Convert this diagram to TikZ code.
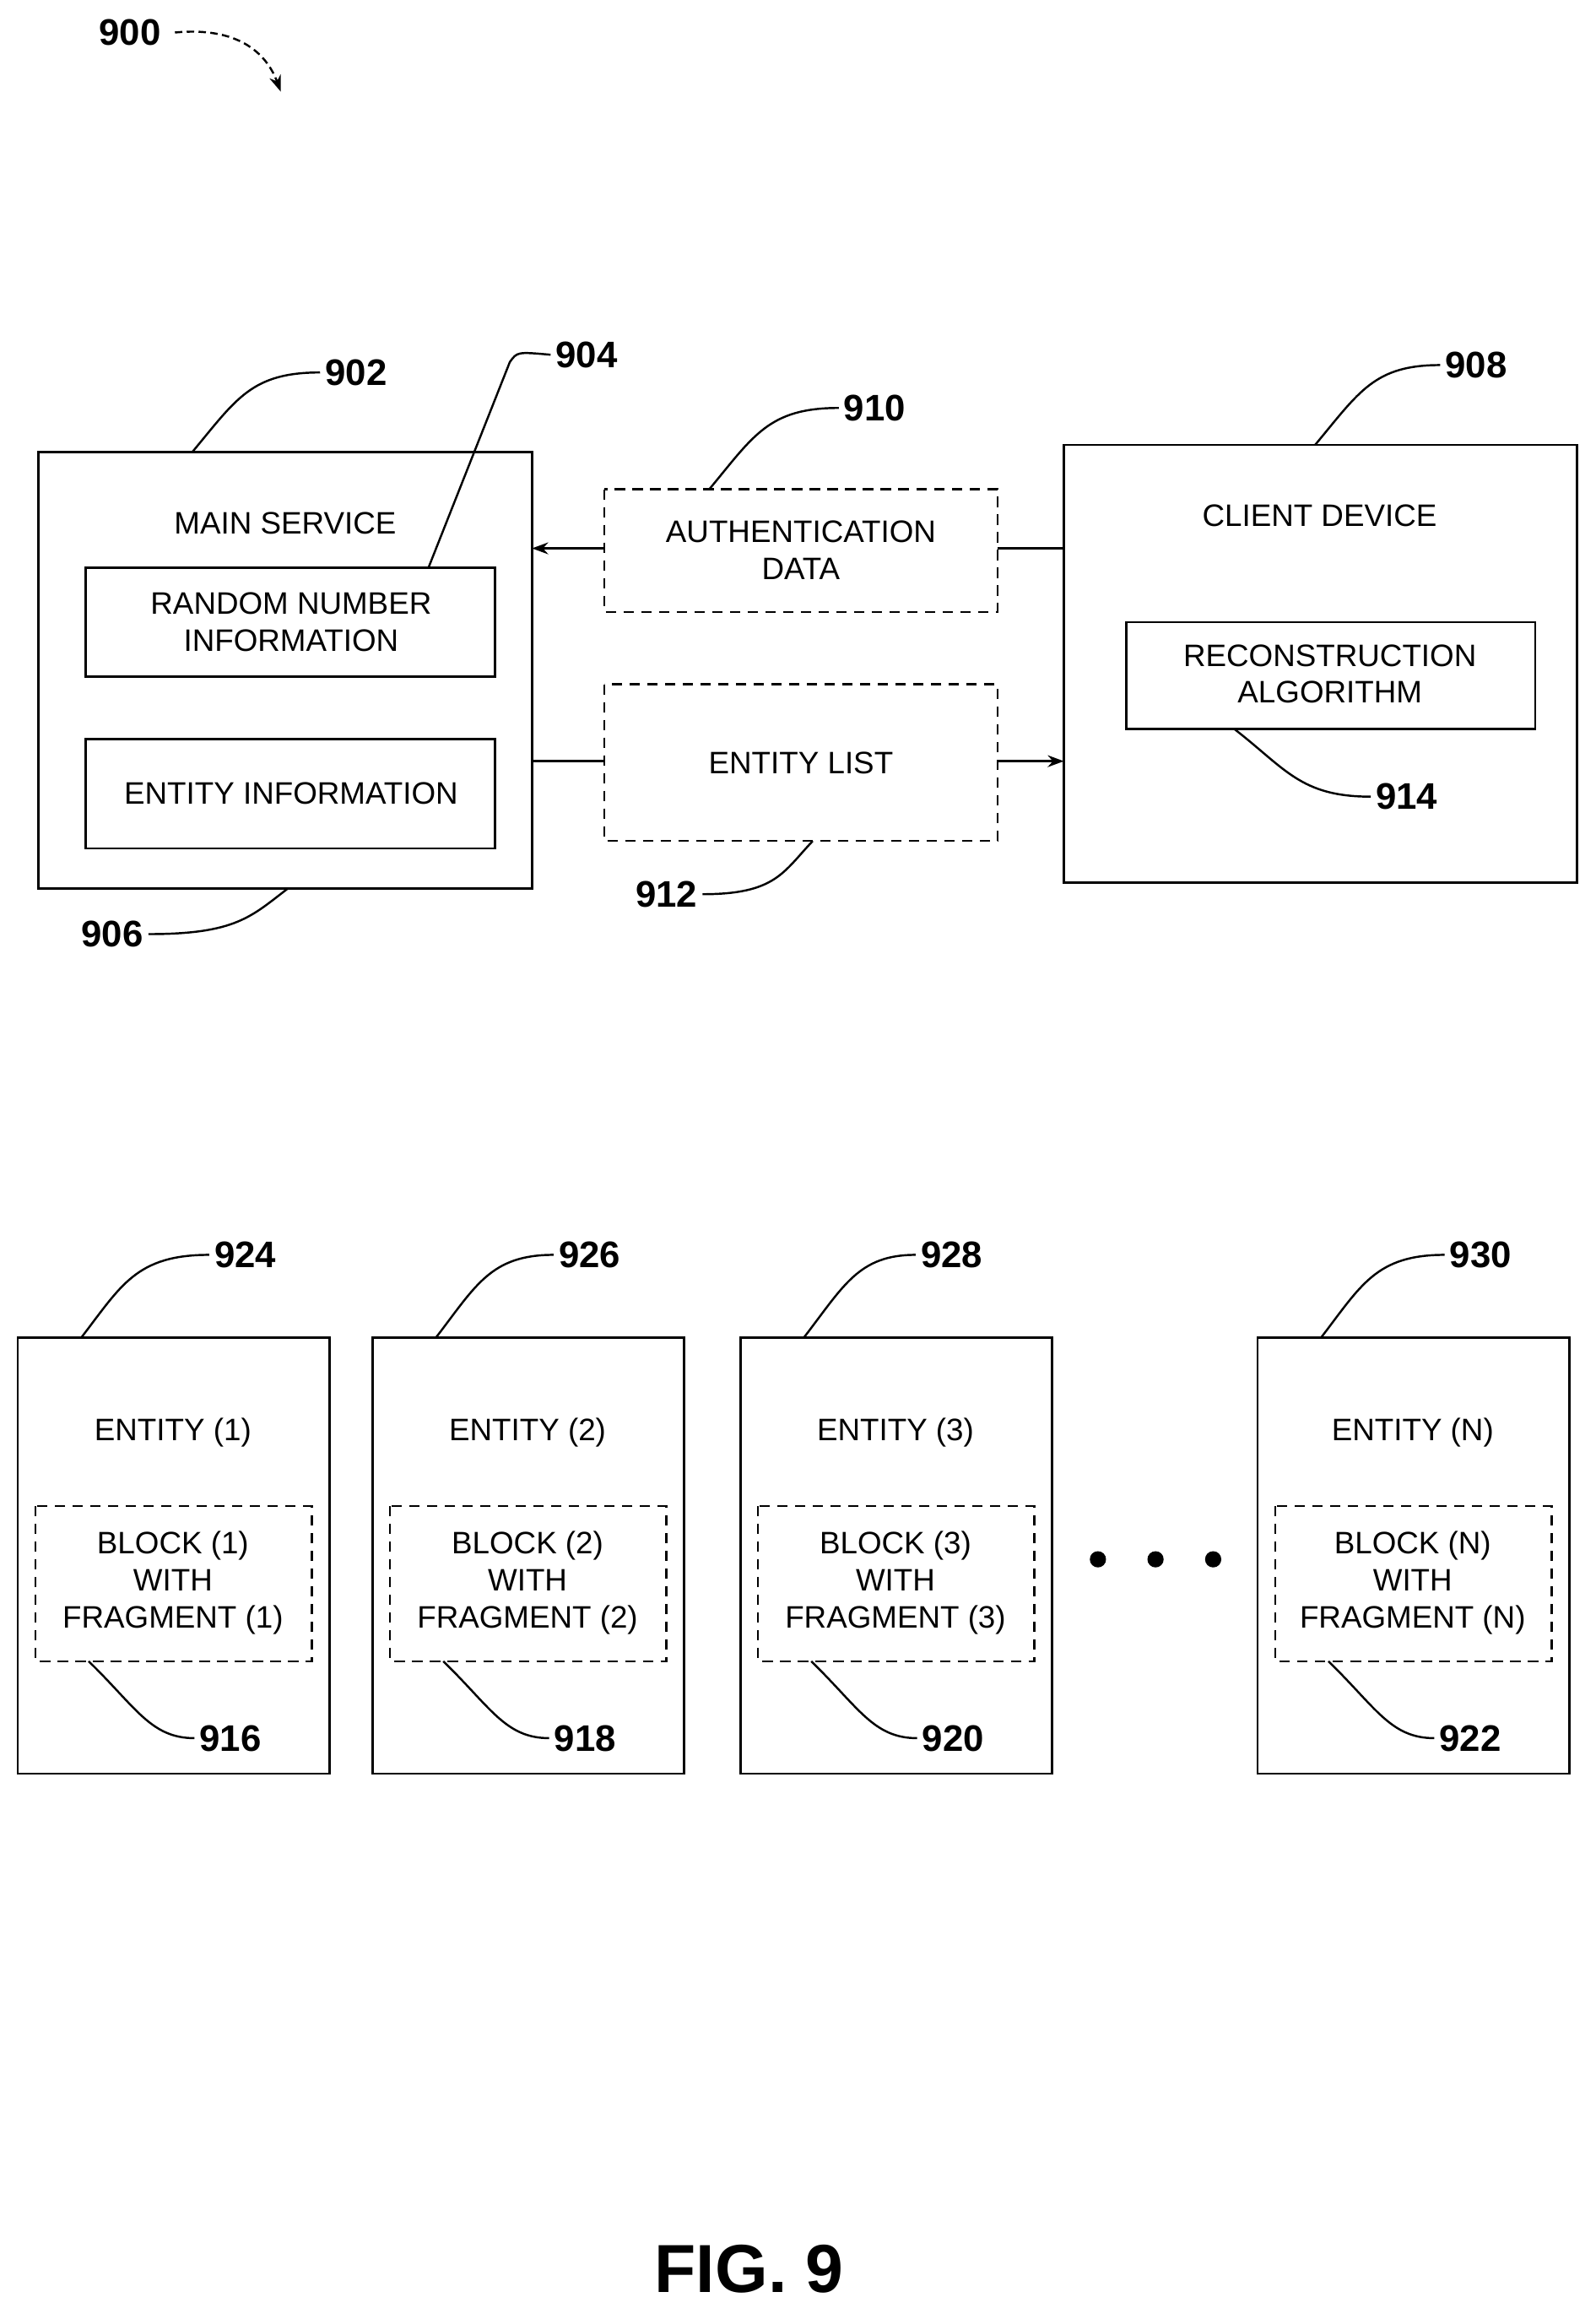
\documentclass[tikz,border=0pt]{standalone}
\usepackage{fontspec}
\setmainfont{Liberation Sans}
\usetikzlibrary{arrows.meta,calc}
\begin{document}
\begin{tikzpicture}[x=1pt,y=-1pt,
  box/.style={draw,line width=1.6pt},
  dbox/.style={draw,line width=1.4pt,dash pattern=on 7pt off 5pt},
  txt/.style={font=\fontsize{21}{25}\selectfont,align=center},
  num/.style={font=\fontsize{25}{28}\selectfont\bfseries},
  lead/.style={line width=1.4pt},
  arr/.style={line width=1.4pt,-{Stealth[length=11pt,width=8pt]}}]
\useasboundingbox[fill=white] (0,0) rectangle (1080,1569);
% 900
\node[num] (n900) at (88,22) {900};
\draw[arr,dash pattern=on 5pt off 3pt] ($(n900.east)+(6,0)$) .. controls (160,18) and (180,35) .. (190,62);
% main service
\draw[box] (26,306) rectangle (360,601);
\coordinate (msL) at (360,371); \coordinate (msR) at (360,515);
\node[txt] (ms) at (193,354) {MAIN SERVICE};
\draw[box] (58,384) rectangle (335,458);
\node[txt] (rn) at (197,421) {RANDOM NUMBER\\INFORMATION};
\draw[box] (58,500) rectangle (335,574);
\node[txt] (ei) at (197,537) {ENTITY INFORMATION};
% dashed
\draw[dbox] (409,331) rectangle (675,414);
\node[txt] (ad) at (542,372) {AUTHENTICATION\\DATA};
\draw[dbox] (409,463) rectangle (675,569);
\node[txt] (el) at (542,516) {ENTITY LIST};
% client
\draw[box] (720,301) rectangle (1067,597);
\node[txt] (cd) at (893,349) {CLIENT DEVICE};
\draw[box] (762,421) rectangle (1039,493);
\node[txt] (ra) at (900,456) {RECONSTRUCTION\\ALGORITHM};
% connectors
\coordinate (cdA) at (720,371); \coordinate (adR) at (675,371); \coordinate (adL) at (409,371);
\coordinate (elL) at (409,515); \coordinate (elR) at (675,515); \coordinate (cdB) at (720,515);
\draw[lead] (cdA) -- (adR);
\draw[arr] (adL) -- (msL);
\draw[lead] (msR) -- (elL);
\draw[arr] (elR) -- (cdB);
% labels top
\node[num] (n902) at (241,252) {902};
\draw[lead] (130,306) .. controls (160,270) and (170,252) .. (n902.west);
\node[num] (n904) at (397,240) {904};
\draw[lead] (290,384) -- (345,245) .. controls (350,238) .. (n904.west);
\node[num] (n910) at (592,276) {910};
\draw[lead] (480,331) .. controls (510,295) and (520,276) .. (n910.west);
\node[num] (n908) at (999,247) {908};
\draw[lead] (890,301) .. controls (920,265) and (930,247) .. (n908.west);
\node[num] (n906) at (76,632) {906};
\draw[lead] (n906.east) .. controls (160,632) and (170,620) .. (195,601);
\node[num] (n912) at (451,605) {912};
\draw[lead] (n912.east) .. controls (525,605) and (530,590) .. (550,569);
\node[num] (n914) at (952,539) {914};
\draw[lead] (835,493) .. controls (870,520) and (880,539) .. (n914.west);
% entities
\foreach \x/\lbl/\k/\top/\tx/\bot in {12/1/e1/924/154/916, 252/2/e2/926/147/918, 501/3/e3/928/143/920, 851/N/eN/930/151/922}{
  \draw[box] (\x,905) rectangle ++(211,295);
  \node[txt] (\k t) at ($(\x,969)+(105,0)$) {ENTITY (\lbl)};
  \draw[dbox] ($(\x,1019)+(12,0)$) rectangle ++(187,105);
  \node[txt] (\k b) at ($(\x,1071)+(105,0)$) {BLOCK (\lbl)\\WITH\\FRAGMENT (\lbl)};
  \node[num] (\k n) at ($(\x,849)+(\tx,0)$) {\top};
  \draw[lead] ($(\x,905)+(43,0)$) .. controls ($(\x,870)+(70,0)$) and ($(\x,849)+(80,0)$) .. (\k n.west);
  \node[num] (\k m) at ($(\x,1176)+(144,0)$) {\bot};
  \draw[lead] ($(\x,1124)+(48,0)$) .. controls ($(\x,1155)+(80,0)$) and ($(\x,1176)+(90,0)$) .. (\k m.west);
}
\foreach \x/\k in {743/d1,782/d2,821/d3}{\fill (\x,1055) circle (5.5pt) node (\k) {};}
\node[font=\fontsize{46}{50}\selectfont\bfseries] (fig) at (507,1535) {FIG. 9};
\end{tikzpicture}
\end{document}
